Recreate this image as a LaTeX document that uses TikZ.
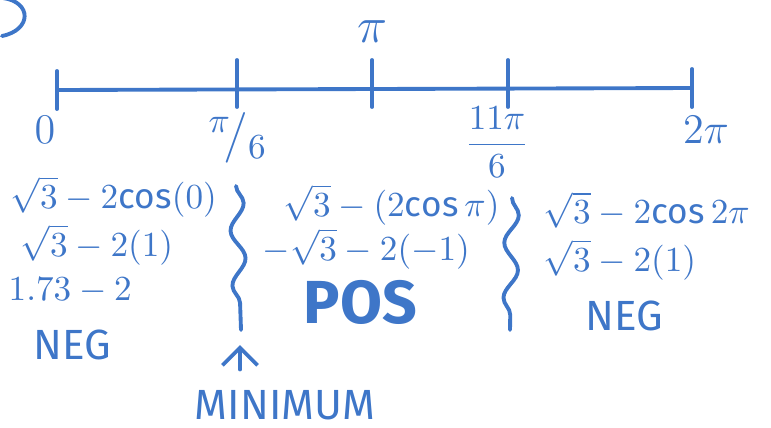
\documentclass[tikz,border=0pt]{standalone}
\usepackage{fontspec}
\setmainfont{Fira Sans}
\usepackage{tikz}
\usetikzlibrary{arrows.meta,positioning,calc,decorations.pathmorphing}
\definecolor{inkblue}{RGB}{62,118,200}

\begin{document}
\begin{tikzpicture}[
  x=0.01cm, y=-0.01cm,
  ink/.style   = {draw=inkblue, line width=1.1pt, line cap=round},
  lbl/.style   = {text=inkblue, font=\large, inner sep=0pt},
  expr/.style  = {lbl, font=\normalsize, anchor=west},
  wave/.style  = {ink, decorate, decoration={snake, amplitude=2pt,
                  segment length=0.55cm}},
  arr/.style   = {ink, -{Straight Barb[length=5pt, width=10pt]}},
]
\useasboundingbox (0,0) rectangle (771,427);
% number line
\coordinate (t0) at (57,90);
\coordinate (t1) at (237,90);
\coordinate (t2) at (372,90);
\coordinate (t3) at (508,90);
\coordinate (t4) at (692,88);
\draw[ink] (t0) -- (t4);
\foreach \t in {t0,t4}
  \draw[ink] ([yshift=0.19cm]\t) -- ([yshift=-0.19cm]\t);
\foreach \t in {t1,t2,t3}
  \draw[ink] ([yshift=0.3cm]\t) -- ([yshift=-0.17cm]\t);
\draw[ink] (3,-2) .. controls (32,2) and (32,30) .. (2,36);

\node[lbl]           (l0) at (45,130)  {$0$};
\node[lbl]           (l1) at (238,138) {\Large$^{\pi}\!/_{6}$};
\node[lbl]           (l2) at (372,32)  {\Large$\pi$};
\node[lbl]           (l3) at (497,142) {\normalsize$\displaystyle\frac{11\pi}{6}$};
\node[lbl]           (l4) at (706,130) {$2\pi$};

% zero
\node[expr] (a1) at (10,197) {$\sqrt{3}-2\mathrm{cos}(0)$};
\node[expr] (a2) at (20,245) {$\sqrt{3}-2(1)$};
\node[expr] (a3) at (8,291)  {$1.73-2$};
\node[lbl, anchor=west] (a4) at (33,345) {NEG};

% pi
\node[expr] (b1) at (283,205) {$\sqrt{3}-(2\mathrm{cos}\,\pi)$};
\node[expr] (b2) at (262,249) {$-\sqrt{3}-2(-1)$};
\node[lbl, anchor=west, font=\LARGE\bfseries] (b3) at (303,302) {POS};

% two pi
\node[expr] (c1) at (543,210) {$\sqrt{3}-2\mathrm{cos}\,2\pi$};
\node[expr] (c2) at (543,260) {$\sqrt{3}-2(1)$};
\node[lbl, anchor=west] (c3) at (585,316) {NEG};

\coordinate (w1a) at (236,186);
\coordinate (w1b) at (241,330);
\coordinate (w2a) at (512,198);
\coordinate (w2b) at (510,330);
\draw[wave] (w1a) -- (w1b);
\draw[wave] (w2a) -- (w2b);

\node[lbl] (minv) at (285,405) {MINIMUM};
\coordinate (mtip) at (240,345);
\draw[arr] (minv.north -| mtip) ++(0,0.2cm) -- (mtip);
\end{tikzpicture}
\end{document}
